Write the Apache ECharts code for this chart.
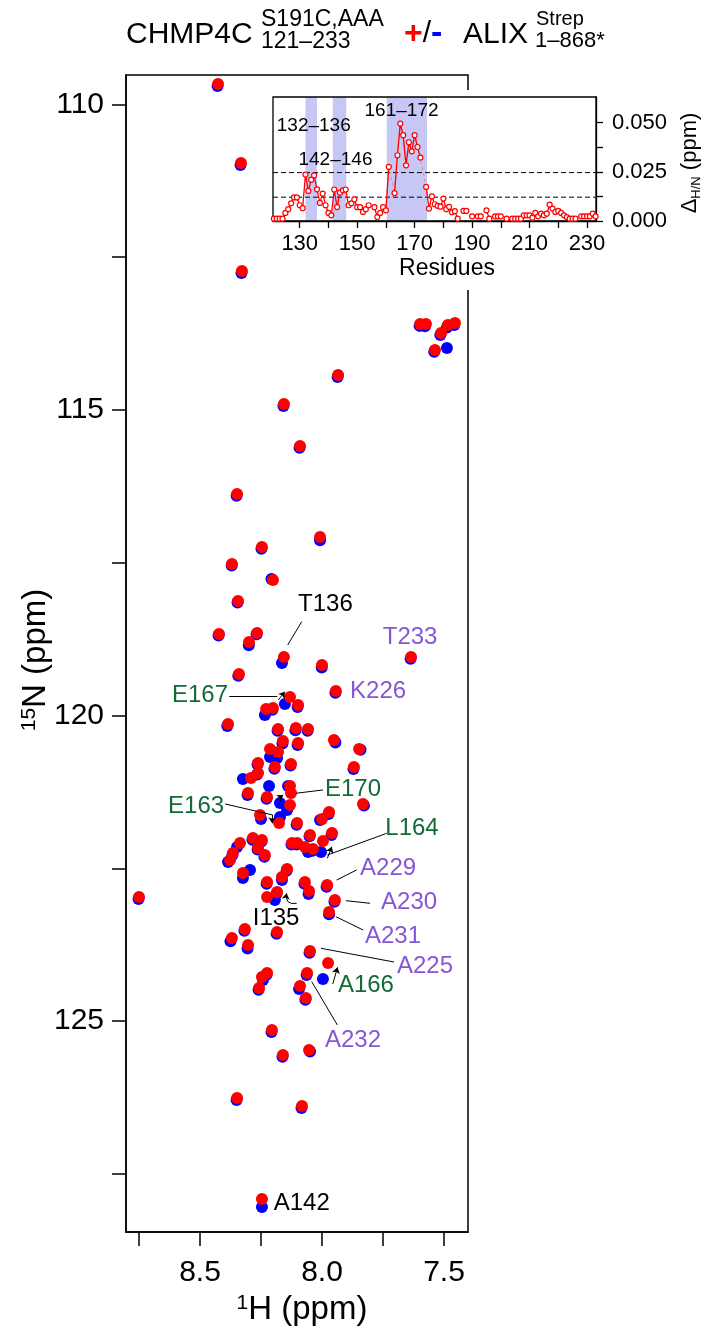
<!DOCTYPE html>
<html>
<head>
<meta charset="utf-8">
<script src="https://cdn.jsdelivr.net/npm/echarts@6/dist/echarts.min.js"></script>
<style>
  html, body { margin: 0; padding: 0; background: #fff; }
  #chart { width: 705px; height: 1331px; }
</style>
</head>
<body>
<div id="chart"></div>
<script>
// ---- 1H-15N HSQC peak positions (ppm) ----
// ALIX-bound state (red)
const redH = [8.426,8.332,8.328,7.598,7.574,7.484,7.455,7.512,7.537,7.934,
  8.156,8.090,8.348,8.008,8.246,8.369,8.201,8.344,8.422,8.266,
  8.299,8.156,8.000,7.635,8.340,7.943,8.131,8.098,8.229,8.201,
  8.385,8.180,8.107,8.057,7.951,8.160,8.098,7.848,8.213,8.180,
  7.869,8.127,8.193,8.262,8.262,8.291,8.303,8.225,8.131,8.127,
  8.131,7.832,8.176,8.254,8.102,7.971,8.000,7.959,8.049,7.996,
  8.283,8.246,8.336,8.123,8.102,8.070,8.037,8.262,8.234,8.365,
  8.377,8.324,8.143,8.164,8.070,8.053,7.979,8.225,8.184,8.225,
  7.947,7.971,8.316,8.184,8.369,8.303,8.049,7.975,8.061,8.225,
  8.246,8.090,8.258,8.066,8.205,8.160,8.053,8.348,8.082,8.246,
  8.750];
const redN = [109.668,110.960,112.727,113.594,113.594,113.611,113.578,113.741,114.020,114.428,
  114.903,115.590,116.375,117.079,117.242,117.520,117.782,118.126,118.665,118.649,
  118.796,119.042,119.172,119.042,119.320,119.598,119.696,119.827,119.892,119.876,
  120.138,120.219,120.203,120.219,120.399,120.416,120.448,120.547,120.547,120.596,
  120.841,120.792,120.841,120.776,120.939,121.021,121.266,121.332,121.152,121.266,
  121.463,121.446,121.757,121.626,121.757,121.577,121.692,121.921,121.953,122.052,
  122.003,122.035,122.084,122.084,122.084,122.150,122.182,122.166,122.281,122.248,
  122.362,122.575,122.510,122.641,122.722,122.870,122.771,122.722,122.886,122.968,
  123.017,123.213,123.491,123.540,123.638,123.753,123.851,124.047,124.211,124.211,
  124.276,124.424,124.456,124.620,125.143,125.552,125.471,126.256,126.387,127.908,
  122.968];
// free state (blue)
const blueH = [8.428,8.334,8.330,7.600,7.578,7.488,7.458,7.515,7.540,7.936,
  8.158,8.092,8.350,8.008,8.248,8.370,8.207,8.346,8.424,8.268,
  8.300,8.164,8.001,7.637,8.343,7.945,8.152,8.100,8.234,8.203,
  8.388,8.182,8.109,8.059,7.945,8.162,8.100,7.842,8.213,8.184,
  7.871,8.129,8.195,8.264,8.266,8.324,8.305,8.227,8.139,8.172,
  8.143,7.828,8.172,8.250,8.104,7.973,8.008,7.961,8.051,8.004,
  8.285,8.248,8.348,8.125,8.104,8.057,8.039,8.264,8.236,8.367,
  8.385,8.324,8.145,8.164,8.072,8.055,7.981,8.227,8.186,8.193,
  7.949,7.971,8.318,8.186,8.375,8.305,8.051,7.996,8.063,8.227,
  8.242,8.094,8.260,8.068,8.207,8.162,8.049,8.350,8.084,8.246,
  8.752,
  7.488,8.217,8.295];
const blueN = [109.700,110.995,112.760,113.625,113.630,113.650,113.610,113.775,114.050,114.460,
  114.935,115.620,116.405,117.130,117.270,117.545,117.765,118.150,118.690,118.670,
  118.850,119.140,119.215,119.070,119.350,119.625,119.810,119.860,119.990,119.905,
  120.170,120.250,120.240,120.250,120.440,120.455,120.480,120.560,120.678,120.694,
  120.875,120.815,120.870,120.800,120.965,121.037,121.300,121.360,121.152,121.430,
  121.545,121.470,121.659,121.692,121.785,121.610,121.708,121.955,121.975,122.232,
  122.030,122.060,122.150,122.110,122.110,122.232,122.210,122.190,122.310,122.280,
  122.395,122.657,122.540,122.690,122.750,122.920,122.800,122.750,122.915,123.017,
  123.045,123.250,123.520,123.570,123.690,123.810,123.880,124.309,124.245,124.240,
  124.325,124.473,124.485,124.650,125.175,125.580,125.495,126.290,126.420,128.039,
  123.000,
  113.987,121.152,122.526];

// ---- combined H/N chemical shift perturbation per residue (ppm) ----
const residues = [121,122,123,124,125,126,127,128,129,
  130,131,132,133,134,135,136,137,138,139,
  140,141,142,143,144,145,146,147,148,149,
  150,151,152,153,154,155,156,157,158,159,
  160,161,162,163,164,165,166,167,168,169,
  170,171,172,173,174,175,176,177,178,179,
  180,181,182,183,184,185,186,187,188,189,
  190,191,192,193,194,195,196,197,198,199,
  200,201,202,203,204,205,206,207,208,209,
  210,211,212,213,214,215,216,217,218,219,
  220,221,222,223,224,225,226,227,228,229,
  230,231,232,233];
const deltaHN = [0.0012,0.0012,0.0012,0.0012,0.0041,0.0060,0.0090,0.0120,0.0120,
  0.0080,0.0065,0.0236,0.0153,0.0210,0.0232,0.0161,0.0092,0.0139,0.0080,
  0.0041,0.0029,0.0160,0.0071,0.0144,0.0156,0.0160,0.0080,0.0090,0.0110,
  0.0070,0.0070,0.0046,0.0060,0.0080,null,0.0070,0.0020,0.0041,0.0070,
  0.0054,0.0275,null,0.0142,0.0334,0.0495,0.0436,0.0283,0.0400,0.0354,
  0.0436,0.0376,0.0322,null,0.0173,0.0063,0.0125,0.0085,0.0077,0.0073,
  0.0114,0.0060,0.0072,0.0045,0.0050,0.0012,null,0.0051,0.0051,null,
  0.0024,null,0.0024,0.0024,null,0.0054,0.0012,null,0.0024,0.0024,
  0.0024,null,0.0012,null,0.0012,0.0012,0.0012,0.0012,0.0029,0.0029,
  0.0029,0.0017,0.0041,0.0024,0.0037,0.0029,0.0037,0.0083,0.0063,0.0046,
  0.0051,0.0041,0.0029,0.0020,0.0012,0.0012,0.0012,null,0.0024,0.0024,
  0.0024,0.0024,0.0037,0.0024];
// significance thresholds (ppm)
const thresholds = [0.0246, 0.0121];
// highlighted residue stretches
const bandNames = ['132–136', '142–146', '161–172'];
const bandStart = [132, 141.5, 160.3];
const bandEnd = [136, 146.2, 174.3];

// ---- tick values ----
const hTicks = [8.75, 8.5, 8.25, 8.0, 7.75, 7.5];
const hLabels = [8.5, 8.0, 7.5];
const nTicks = [110, 112.5, 115, 117.5, 120, 122.5, 125, 127.5];
const nLabels = [110, 115, 120, 125];
const resTicks = [130, 140, 150, 160, 170, 180, 190, 200, 210, 220, 230];
const resLabels = [130, 150, 170, 190, 210, 230];
const dTicks = [0, 0.0125, 0.025, 0.0375, 0.05];
const dLabels = [0, 0.025, 0.05];

// ---- peak assignments ----
const assignName  = ['T136','T233','K226','E167','E170','E163','L164','A229','A230','A231','A225','A166','A232','I135','A142'];
const assignGroup = ['core','ctail','ctail','alix','alix','alix','alix','ctail','ctail','ctail','ctail','alix','ctail','core','core'];

// label anchor points and leader/arrow geometry (ppm coordinates)
const layout = {
  labelAt: [[7.986,118.183],[7.639,118.714],[7.770,119.598],[8.500,119.663],[7.873,121.209],
            [8.516,121.479],[7.631,121.839],[7.729,122.493],[7.643,123.049],[7.709,123.606],
            [7.578,124.096],[7.820,124.407],[7.873,125.307],[8.188,123.311],[8.083,127.973]],
  bandLabelAt: [[134.88, 0.0486], [142.44, 0.0312], [165.44, 0.0562]],
  leaders: [
    [[8.1405,118.845],[8.0831,118.464]],
    [[8.380,119.680],[8.183,119.680]],
    [[8.107,121.271],[7.996,121.217]],
    [[8.397,121.446],[8.202,121.626]],
    [[7.978,122.281],[7.735,121.926]],
    [[7.940,122.690],[7.858,122.526]],
    [[7.902,123.028],[7.803,123.071]],
    [[7.943,123.290],[7.831,123.508]],
    [[8.004,123.807],[7.705,124.031]],
    [[8.042,124.353],[7.937,125.062]]
  ],
  arrows: [
    [[8.179,119.745],[8.152,119.609]],
    [[8.188,121.381],[8.159,121.299]],
    [[8.204,121.626],[8.204,121.762]],
    [[7.978,122.335],[7.960,122.145]],
    [[7.956,124.391],[7.936,124.118]]
  ],
  curvedArrows: [[[8.104,123.071],[8.145,122.907]]]
};

const FONT = '"Liberation Sans", Arial, Helvetica, sans-serif';
const groupColor = { core: '#000000', ctail: '#8656d6', alix: '#126b36' };

// main spectrum window
const H_MIN = 7.4016, H_MAX = 8.8032, N_MIN = 109.521, N_MAX = 128.448;
// inset window
const R_MIN = 120.69, R_MAX = 233.14, D_MAX = 0.063;

const zip = (a, b) => a.map((v, i) => [v, b[i]]);

const chart = echarts.init(document.getElementById('chart'), null, { renderer: 'canvas' });

const axisLineStyle = { color: '#000', width: 1.5 };
const insetLineStyle = { color: '#000', width: 1.3 };

function txt(x, y, text, size, color, align) {
  return { type: 'text', z: 20, x, y, silent: true, style: {
    text, font: size + 'px ' + FONT, fill: color,
    align: align || 'left', verticalAlign: 'middle', textAlign: align || 'left', textVerticalAlign: 'middle'
  } };
}

const baseGraphic = [
  // backdrop of the inset panel
  { type: 'rect', z: 10, shape: { x: 262, y: 90, width: 443, height: 200 }, style: { fill: '#fff' }, silent: true },
  // title
  txt(126, 35, 'CHMP4C', 30, '#000'),
  txt(261, 20, 'S191C,AAA', 23, '#000'),
  txt(261, 42, '121–233', 23, '#000'),
  { type: 'text', z: 20, x: 404, y: 34, style: {
      text: '{r|+}{k|/}{b|-}', font: '30px ' + FONT, align: 'left', verticalAlign: 'middle', textAlign: 'left', textVerticalAlign: 'middle',
      rich: {
        r: { fontSize: 32, fontWeight: 'bold', fontFamily: FONT, color: '#ff0000', fill: '#ff0000' },
        k: { fontSize: 30, fontFamily: FONT, color: '#000', fill: '#000' },
        b: { fontSize: 34, fontWeight: 'bold', fontFamily: FONT, color: '#0000ff', fill: '#0000ff' }
      } } },
  txt(463, 35, 'ALIX', 30, '#000'),
  txt(536, 19, 'Strep', 20, '#000'),
  txt(535, 41, '1–868*', 22, '#000'),
  // axis titles
  { type: 'text', z: 20, x: 302, y: 1310, style: {
      text: '{s|1}{m|H (ppm)}', align: 'center', verticalAlign: 'middle', textAlign: 'center', textVerticalAlign: 'middle',
      rich: { s: { fontSize: 21, fontFamily: FONT, verticalAlign: 'top', lineHeight: 34, fill: '#000', color: '#000' },
              m: { fontSize: 33, fontFamily: FONT, lineHeight: 34, fill: '#000', color: '#000' } } } },
  { type: 'text', z: 20, x: 36, y: 660, rotation: Math.PI / 2, style: {
      text: '{s|15}{m|N (ppm)}', align: 'center', verticalAlign: 'middle', textAlign: 'center', textVerticalAlign: 'middle',
      rich: { s: { fontSize: 21, fontFamily: FONT, verticalAlign: 'top', lineHeight: 34, fill: '#000', color: '#000' },
              m: { fontSize: 33, fontFamily: FONT, lineHeight: 34, fill: '#000', color: '#000' } } } },
  txt(447, 269, 'Residues', 23, '#000', 'center'),
  { type: 'text', z: 20, x: 690, y: 163, rotation: Math.PI / 2, style: {
      text: '{m|Δ}{s|H/N}{m| (ppm)}', align: 'center', verticalAlign: 'middle', textAlign: 'center', textVerticalAlign: 'middle',
      rich: { s: { fontSize: 13, fontFamily: FONT, verticalAlign: 'bottom', lineHeight: 26, fill: '#000', color: '#000' },
              m: { fontSize: 22, fontFamily: FONT, lineHeight: 24, fill: '#000', color: '#000' } } } }
];

const option = {
  backgroundColor: '#fff',
  animation: false,
  textStyle: { fontFamily: FONT },
  grid: [
    { left: 126, top: 75, width: 342, height: 1157, show: true, borderColor: '#000', borderWidth: 1.5, backgroundColor: 'transparent', z: 0 },
    { left: 273, top: 97, width: 323, height: 124, show: true, borderColor: '#000', borderWidth: 1.3, backgroundColor: 'transparent', z: 12 }
  ],
  xAxis: [
    {
      gridIndex: 0, type: 'value', inverse: true, min: H_MIN, max: H_MAX,
      axisLine: { show: true, lineStyle: axisLineStyle },
      axisTick: { show: true, inside: false, length: 14, customValues: hTicks, lineStyle: axisLineStyle },
      axisLabel: { customValues: hLabels, formatter: v => v.toFixed(1), fontSize: 30, margin: 26, color: '#000', fontFamily: FONT },
      splitLine: { show: false }
    },
    {
      gridIndex: 1, type: 'value', min: R_MIN, max: R_MAX, z: 12,
      axisLine: { show: true, lineStyle: insetLineStyle },
      axisTick: { show: true, inside: false, length: 7, customValues: resTicks, lineStyle: insetLineStyle },
      axisLabel: { customValues: resLabels, fontSize: 22, margin: 12, color: '#000', fontFamily: FONT },
      splitLine: { show: false }
    }
  ],
  yAxis: [
    {
      gridIndex: 0, type: 'value', inverse: true, min: N_MIN, max: N_MAX,
      axisLine: { show: true, lineStyle: axisLineStyle },
      axisTick: { show: true, inside: false, length: 14, customValues: nTicks, lineStyle: axisLineStyle },
      axisLabel: { customValues: nLabels, formatter: v => String(v), fontSize: 30, margin: 22, color: '#000', fontFamily: FONT },
      splitLine: { show: false }
    },
    {
      gridIndex: 1, type: 'value', position: 'right', min: 0, max: D_MAX, z: 12,
      axisLine: { show: true, lineStyle: insetLineStyle },
      axisTick: { show: true, inside: false, length: 7, customValues: dTicks, lineStyle: insetLineStyle },
      axisLabel: { customValues: dLabels, formatter: v => v.toFixed(3), fontSize: 22, margin: 16, color: '#000', fontFamily: FONT },
      splitLine: { show: false }
    }
  ],
  graphic: { elements: baseGraphic },
  series: [
    // free state peaks
    {
      type: 'scatter', xAxisIndex: 0, yAxisIndex: 0, z: 2, silent: true,
      symbol: 'circle', symbolSize: 12,
      itemStyle: { color: '#0000ff', opacity: 1 },
      data: zip(blueH, blueN)
    },
    // ALIX-bound peaks
    {
      type: 'scatter', xAxisIndex: 0, yAxisIndex: 0, z: 3, silent: true,
      symbol: 'circle', symbolSize: 12,
      itemStyle: { color: '#ff0000', opacity: 1 },
      data: zip(redH, redN)
    },
    // leader lines to assignments
    {
      type: 'lines', coordinateSystem: 'cartesian2d', xAxisIndex: 0, yAxisIndex: 0, z: 4, silent: true,
      symbol: ['none', 'none'],
      lineStyle: { color: '#000', width: 1, opacity: 1 },
      data: layout.leaders.map(c => ({ coords: c }))
    },
    // shift arrows (free -> bound)
    {
      type: 'lines', coordinateSystem: 'cartesian2d', xAxisIndex: 0, yAxisIndex: 0, z: 4, silent: true,
      symbol: ['none', 'arrow'], symbolSize: 6,
      lineStyle: { color: '#000', width: 1, opacity: 1 },
      data: layout.arrows.map(c => ({ coords: c }))
        .concat(layout.curvedArrows.map(c => ({ coords: c, lineStyle: { curveness: 0.7 } })))
    },
    // inset: highlighted stretches
    {
      type: 'custom', xAxisIndex: 1, yAxisIndex: 1, z: 11, silent: true,
      encode: { x: [0, 1] },
      data: bandStart.map((s, i) => [s, bandEnd[i]]),
      renderItem: (params, api) => {
        const p0 = api.coord([api.value(0), D_MAX]);
        const p1 = api.coord([api.value(1), 0]);
        return { type: 'rect', shape: { x: p0[0], y: p0[1], width: p1[0] - p0[0], height: p1[1] - p0[1] }, style: { fill: '#c7c7f6' } };
      }
    },
    // inset: threshold lines
    ...thresholds.map(t => ({
      type: 'line', xAxisIndex: 1, yAxisIndex: 1, z: 13, silent: true,
      symbol: 'none', lineStyle: { color: '#000', width: 1, type: [5, 3] },
      data: [[R_MIN, t], [R_MAX, t]]
    })),
    // inset: bridges over unassigned residues inside the binding stretch
    {
      type: 'line', xAxisIndex: 1, yAxisIndex: 1, z: 13, silent: true, connectNulls: true,
      symbol: 'none', lineStyle: { color: '#f08080', width: 1, type: [3, 3] },
      data: zip(residues, deltaHN).filter(d => d[0] >= 160 && d[0] <= 175)
    },
    // inset: perturbation profile
    {
      type: 'line', xAxisIndex: 1, yAxisIndex: 1, z: 14, silent: true, connectNulls: false,
      symbol: 'circle', symbolSize: 5, showAllSymbol: true,
      itemStyle: { color: '#fff', borderColor: '#ff0000', borderWidth: 1.2 },
      lineStyle: { color: '#ff0000', width: 1.3 },
      data: zip(residues, deltaHN)
    }
  ]
};

chart.setOption(option);

// assignment and stretch labels, placed through the axes' own coordinate conversion
const labelGraphic = assignName.map((n, i) => {
  const p = chart.convertToPixel({ gridIndex: 0 }, layout.labelAt[i]);
  return txt(p[0], p[1], n, 24, groupColor[assignGroup[i]], 'center');
}).concat(bandNames.map((n, i) => {
  const p = chart.convertToPixel({ gridIndex: 1 }, layout.bandLabelAt[i]);
  return txt(p[0], p[1], n, 19, '#000', 'center');
}));

chart.setOption({ graphic: { elements: baseGraphic.concat(labelGraphic) } });
</script>
</body>
</html>
